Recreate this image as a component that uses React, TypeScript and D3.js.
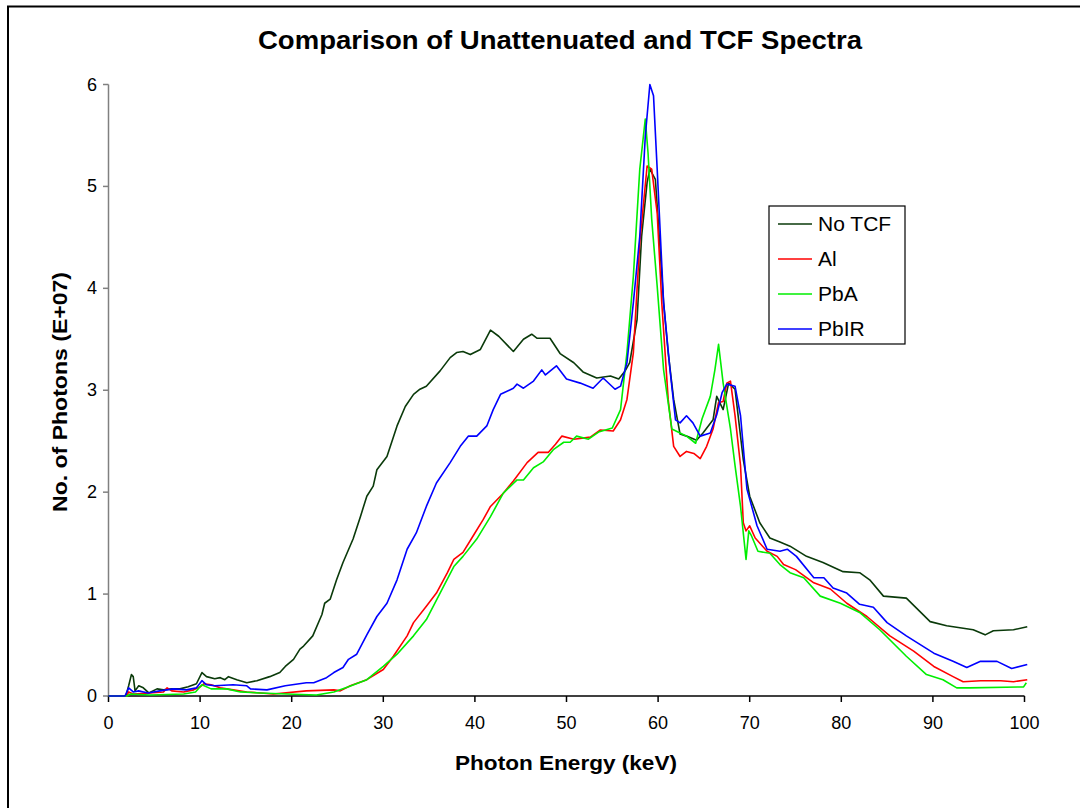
import React from "react";
import * as d3 from "d3";

const xTicks = [0, 10, 20, 30, 40, 50, 60, 70, 80, 90, 100];
const yTicks = [0, 1, 2, 3, 4, 5, 6];

const seriesNames = ["No TCF", "Al", "PbA", "PbIR"];
const seriesColors = ["#0a3a0a", "#ff0000", "#00ee00", "#0000ff"];

const noTcf: [number, number][] = [[0,0],[1.9,0],[2.2,0.1],[2.5,0.21],[2.7,0.19],[2.9,0.05],[3.3,0.1],[3.8,0.08],[4.4,0.03],[5.3,0.07],[6,0.06],[6.9,0.07],[7.8,0.07],[8.7,0.09],[9.6,0.12],[10.2,0.23],[10.7,0.19],[11.6,0.17],[12.2,0.18],[12.7,0.16],[13.1,0.19],[14,0.16],[15.1,0.13],[16.2,0.15],[17.6,0.19],[18.7,0.23],[19.3,0.29],[20.2,0.36],[20.9,0.46],[21.3,0.49],[22.3,0.59],[23.3,0.8],[23.6,0.91],[24.2,0.95],[24.9,1.14],[25.6,1.31],[26.7,1.54],[27.5,1.76],[28.2,1.96],[28.9,2.06],[29.3,2.22],[30.4,2.35],[31.5,2.65],[32.4,2.84],[33.3,2.96],[34,3.01],[34.7,3.04],[36.2,3.19],[37.3,3.32],[38,3.37],[38.7,3.38],[39.5,3.35],[40.6,3.4],[41.7,3.59],[42.6,3.53],[44.2,3.38],[45.3,3.5],[46.2,3.55],[46.8,3.51],[48.2,3.51],[49.3,3.36],[50.8,3.27],[51.8,3.18],[53.3,3.12],[54.8,3.14],[55.7,3.11],[56.4,3.19],[56.9,3.27],[57.7,3.69],[58.2,4.51],[58.8,5.04],[59.1,5.17],[59.7,5.07],[60,4.68],[60.6,3.86],[61.1,3.37],[61.7,2.91],[62.4,2.57],[63.1,2.55],[64.2,2.51],[64.9,2.58],[66,2.71],[66.4,2.94],[67.1,2.81],[67.7,3.07],[68.4,3.01],[69.3,2.32],[70,1.96],[71.1,1.7],[72.2,1.55],[73.3,1.51],[74.4,1.47],[76.2,1.37],[78,1.31],[80.2,1.22],[82,1.21],[83.1,1.14],[84.6,0.98],[87.1,0.96],[89.7,0.73],[91.5,0.69],[94.4,0.65],[95.7,0.6],[96.6,0.64],[98.8,0.65],[100.3,0.68]];

const al: [number, number][] = [[0,0],[2,0],[2.2,0.04],[2.7,0.02],[4.5,0.03],[6,0.04],[6.4,0.08],[6.9,0.05],[8.2,0.04],[9.3,0.06],[10,0.09],[10.4,0.12],[11.2,0.11],[12.2,0.08],[13.6,0.06],[15.1,0.04],[18,0.02],[21.6,0.05],[24.6,0.06],[25.3,0.05],[26.4,0.1],[28.2,0.16],[30,0.26],[31.1,0.39],[32.6,0.59],[33.3,0.72],[34.7,0.88],[35.8,1.01],[37,1.21],[37.7,1.34],[38.7,1.41],[39.8,1.57],[40.9,1.73],[41.7,1.86],[43.1,1.99],[44.2,2.11],[45.7,2.29],[46.9,2.39],[48,2.39],[48.8,2.47],[49.5,2.55],[50.8,2.52],[52.6,2.54],[53.7,2.61],[55.1,2.6],[55.9,2.71],[56.6,2.91],[57.3,3.37],[58,4.45],[58.8,5.2],[59.3,5.17],[59.9,4.74],[60.4,3.86],[61.1,2.91],[61.7,2.45],[62.4,2.35],[63.1,2.4],[63.9,2.38],[64.6,2.33],[65.3,2.45],[66,2.62],[66.6,2.88],[67.1,2.89],[67.5,3.07],[67.9,3.09],[68.4,2.75],[69,2.26],[69.3,1.7],[69.6,1.62],[70,1.67],[70.6,1.55],[71.9,1.42],[73,1.37],[73.7,1.29],[75,1.24],[77,1.11],[78.8,1.05],[80.6,0.91],[82.8,0.78],[85.3,0.59],[87.9,0.44],[90.1,0.29],[92.2,0.19],[93.3,0.14],[95.2,0.15],[97.4,0.15],[98.8,0.14],[100.3,0.16]];

const pbA: [number, number][] = [[0,0],[2,0],[2.4,0.02],[4.5,0.01],[8.2,0.02],[9.5,0.04],[10.2,0.11],[11.2,0.07],[12.9,0.07],[14.4,0.04],[16.5,0.03],[19.5,0.02],[22.7,0.01],[24.6,0.04],[26.2,0.09],[28.2,0.16],[30,0.29],[31.5,0.41],[33.3,0.59],[34.7,0.75],[36.2,1.01],[37.7,1.27],[38.7,1.37],[40.2,1.54],[41.7,1.76],[43.1,1.99],[44.6,2.12],[45.3,2.12],[46.4,2.24],[47.5,2.3],[48.6,2.42],[49.7,2.49],[50.4,2.49],[51.1,2.55],[52.4,2.52],[53.5,2.59],[55,2.63],[55.9,2.81],[56.6,3.37],[57.3,4.12],[58,5.17],[58.6,5.66],[58.9,5.33],[59.3,4.68],[59.9,4.02],[60.6,3.2],[61.5,2.62],[62.4,2.58],[63.1,2.55],[64.1,2.48],[64.8,2.72],[65.7,2.94],[66.2,3.2],[66.6,3.45],[67.1,3.07],[67.9,2.62],[68.4,2.26],[69,1.86],[69.6,1.34],[69.9,1.62],[70.2,1.57],[70.9,1.42],[72.2,1.4],[73.3,1.29],[74.4,1.21],[75.9,1.16],[77.7,0.98],[79.9,0.91],[82,0.82],[84.2,0.65],[87.1,0.39],[89.3,0.21],[91.1,0.16],[92.6,0.08],[94,0.08],[99.9,0.09],[100.2,0.13]];

const pbIR: [number, number][] = [[0,0],[1.8,0],[2.2,0.08],[2.7,0.04],[3.3,0.05],[4.3,0.03],[5.6,0.05],[7.1,0.07],[8.5,0.06],[9.6,0.08],[10.2,0.15],[10.7,0.11],[11.6,0.1],[13.6,0.11],[15.1,0.1],[15.5,0.07],[17.3,0.06],[19.3,0.1],[21.6,0.13],[22.4,0.13],[23.8,0.18],[24.6,0.23],[25.6,0.28],[26.2,0.36],[27.1,0.41],[28.2,0.6],[29.3,0.78],[30.4,0.91],[31.5,1.14],[32.6,1.44],[33.6,1.6],[34.7,1.86],[35.8,2.09],[37.3,2.29],[38.4,2.45],[39.3,2.55],[40.2,2.55],[41.3,2.65],[42,2.81],[42.8,2.96],[44.2,3.02],[44.6,3.06],[45.3,3.02],[46.4,3.09],[47.3,3.2],[47.7,3.15],[48.9,3.24],[50,3.11],[51.5,3.07],[52.9,3.02],[54,3.12],[55.3,3.01],[55.9,3.04],[56.6,3.27],[57.3,3.86],[58,4.51],[58.6,5.49],[59.1,6.0],[59.5,5.89],[59.9,5.17],[60.6,3.86],[61.3,3.2],[61.9,2.71],[62.4,2.68],[63.1,2.75],[63.8,2.68],[64.6,2.55],[65.7,2.58],[66.4,2.76],[67,2.98],[67.5,3.06],[68.4,3.04],[69,2.75],[69.7,2.03],[70.8,1.67],[71.9,1.44],[73.3,1.42],[74.1,1.44],[75.1,1.37],[77,1.16],[78.1,1.16],[79.1,1.06],[80.6,1.01],[82,0.9],[83.5,0.87],[85,0.72],[87.1,0.59],[90.1,0.42],[92.2,0.34],[93.7,0.28],[95.2,0.34],[97,0.34],[98.6,0.27],[100.3,0.31]];

const allSeries = [noTcf, al, pbA, pbIR];

export default function App() {
  const W = 1080, H = 808;
  const x = d3.scaleLinear().domain([0, 100]).range([108.5, 1024.5]);
  const y = d3.scaleLinear().domain([0, 6]).range([696, 84.5]);
  const line = d3.line<[number, number]>().x(d => x(d[0])).y(d => y(d[1]));
  const font = "'Liberation Sans', Arial, sans-serif";
  const legX = 769, legY = 206;
  return (
    <svg width={W} height={H} style={{ position: "absolute", left: 0, top: 0, background: "#fff" }} fontFamily={font}>
      <rect x={0} y={0} width={W} height={H} fill="#fff" />
      <rect x={8} y={6.5} width={W + 20} height={H + 20} fill="none" stroke="#000" strokeWidth={2} />
      <text x={560} y={49} textAnchor="middle" fontSize={25} fontWeight="bold" textLength={604} lengthAdjust="spacingAndGlyphs">Comparison of Unattenuated and TCF Spectra</text>
      {/* y axis */}
      <line x1={108.5} x2={108.5} y1={y(6)} y2={y(0)} stroke="#808080" strokeWidth={1.5} />
      {yTicks.map(t => (
        <g key={"y" + t}>
          <line x1={103} x2={108.5} y1={y(t)} y2={y(t)} stroke="#808080" strokeWidth={1.5} />
          <text x={97} y={y(t) + 6} textAnchor="end" fontSize={18}>{t}</text>
        </g>
      ))}
      {/* x axis */}
      <line x1={x(0)} x2={x(100)} y1={696} y2={696} stroke="#000" strokeWidth={1.5} />
      {xTicks.map(t => (
        <g key={"x" + t}>
          <line x1={x(t)} x2={x(t)} y1={696} y2={702} stroke="#000" strokeWidth={1.5} />
          <text x={x(t)} y={729} textAnchor="middle" fontSize={18}>{t}</text>
        </g>
      ))}
      <text x={566} y={770} textAnchor="middle" fontSize={20} fontWeight="bold" textLength={222} lengthAdjust="spacingAndGlyphs">Photon Energy (keV)</text>
      <text transform="translate(67,392) rotate(-90)" textAnchor="middle" fontSize={20} fontWeight="bold" textLength={240} lengthAdjust="spacingAndGlyphs">No. of Photons (E+07)</text>
      {allSeries.map((s, i) => (
        <path key={i} d={line(s) || ""} fill="none" stroke={seriesColors[i]} strokeWidth={1.6} strokeLinejoin="round" />
      ))}
      {/* legend */}
      <rect x={legX} y={legY} width={136} height={138} fill="#fff" stroke="#000" strokeWidth={1.2} />
      {seriesNames.map((n, i) => (
        <g key={n}>
          <line x1={778} x2={812} y1={224 + i * 35} y2={224 + i * 35} stroke={seriesColors[i]} strokeWidth={1.6} />
          <text x={818} y={231 + i * 35} fontSize={21}>{n}</text>
        </g>
      ))}
    </svg>
  );
}
